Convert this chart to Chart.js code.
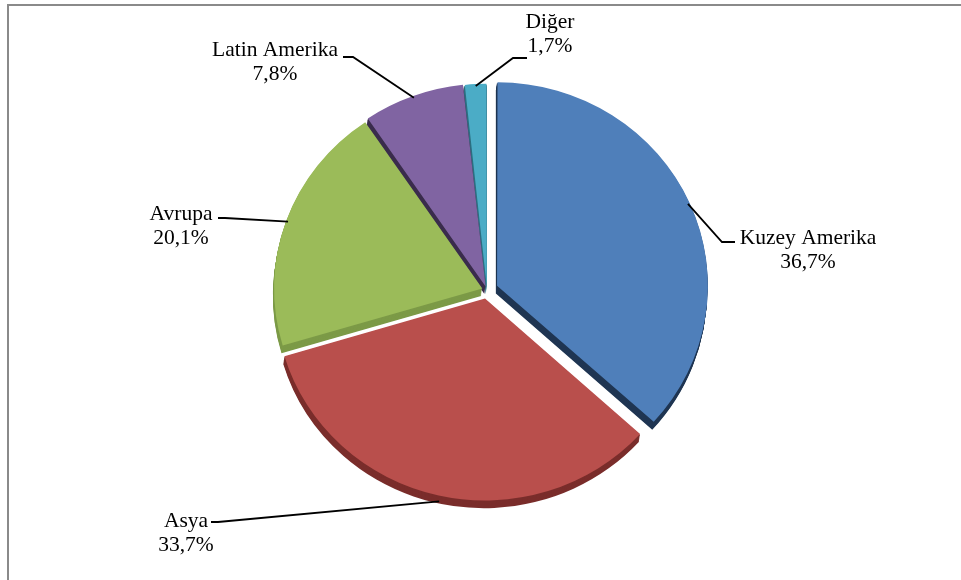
<!doctype html>
<html lang="tr">

<head>
  <meta charset="utf-8">
  <title>Bölgelere göre dağılım</title>
  <style>
    body { margin: 0; background: #fff; }
    #wrap { position: relative; width: 961px; height: 580px; overflow: hidden; }
    #chart { position: absolute; left: 0; top: 0; }
    #frame {
      position: absolute; left: 7px; top: 4px; width: 960px; height: 580px;
      border-top: 2px solid #8a8a8a; border-left: 2px solid #8a8a8a;
      pointer-events: none;
    }
  </style>
</head>

<body>
  <div id="wrap">
    <canvas id="chart" width="961" height="580"></canvas>
    <div id="frame"></div>
  </div>

  <script src="https://cdn.jsdelivr.net/npm/chart.js@4/dist/chart.umd.min.js"></script>
  <script>

  // shares by region, %
  const regions = ['Kuzey Amerika', 'Asya', 'Avrupa', 'Latin Amerika', 'Diğer'];
  const shares = [36.7, 33.7, 20.1, 7.8, 1.7];
  const shareLabels = ['36,7%', '33,7%', '20,1%', '7,8%', '1,7%'];

  const faceColors = ['#4f7fba', '#b94f4c', '#9bbb59', '#8064a2', '#4bacc6'];
  const sideColors = ['#1f3552', '#7a2d2b', '#7c9a47', '#3a2c4c', '#2d6f80'];
  const explode = [44, 36, 20, 16, 12];

  // label text centre (first line), elbow of the leader and end of its stub
  const labelLayout = [
    { x: 808, y: 238, elbow: [722, 242], stub: [735, 242] },
    { x: 186, y: 521, elbow: [218, 522], stub: [211, 522] },
    { x: 181, y: 214, elbow: [225, 218], stub: [218, 218] },
    { x: 275, y: 50,  elbow: [353, 57],  stub: [343, 57] },
    { x: 550, y: 22,  elbow: [513, 58],  stub: [527, 58] }
  ];

  const DEPTH = 8;
  const TILT = 0.965;   // vertical squash of the pie to look tilted

  // where the arc element really sits once chart.js applies the offset
  function arcGeometry(el) {
    const half = (el.startAngle + el.endAngle) / 2;
    const t = (el.options.offset || 0) / 4;
    const fix = 1 - Math.sin(Math.min(Math.PI, el.circumference || 0));
    return {
      half: half,
      x: el.x + Math.cos(half) * t,
      y: el.y + Math.sin(half) * t,
      r: el.outerRadius + t * fix
    };
  }

  // tilt the pie, draw the side walls under the faces, then the labels
  const pie3d = {
    id: 'pie3d',
    beforeDatasetsDraw(chart) {
      const ctx = chart.ctx;
      const arcs = chart.getDatasetMeta(0).data;
      const cy = arcs[0].y;
      ctx.save();
      ctx.translate(0, cy);
      ctx.scale(1, TILT);
      ctx.translate(0, -cy);
      for (let d = DEPTH; d >= 1; d--) {
        arcs.forEach((el, i) => {
          const g = arcGeometry(el);
          ctx.beginPath();
          ctx.moveTo(g.x - d * 0.15, g.y + d);
          ctx.arc(g.x - d * 0.15, g.y + d, g.r, el.startAngle, el.endAngle);
          ctx.closePath();
          ctx.fillStyle = sideColors[i];
          ctx.fill();
        });
      }
    },
    afterDatasetsDraw(chart) {
      const ctx = chart.ctx;
      ctx.restore();
      const arcs = chart.getDatasetMeta(0).data;
      ctx.save();
      ctx.strokeStyle = '#000';
      ctx.lineWidth = 1.8;
      ctx.fillStyle = '#000';
      ctx.font = '21.5px "Liberation Serif", "Times New Roman", serif';
      ctx.textAlign = 'center';
      ctx.textBaseline = 'middle';
      arcs.forEach((el, i) => {
        const g = arcGeometry(el);
        const lay = labelLayout[i];
        const ax = g.x + Math.cos(g.half) * (g.r - 2);
        let ay = g.y + Math.sin(g.half) * (g.r - 2);
        if (Math.sin(g.half) > 0.5) ay += DEPTH;
        ay = el.y + (ay - el.y) * TILT;
        ctx.beginPath();
        ctx.moveTo(ax, ay);
        ctx.lineTo(lay.elbow[0], lay.elbow[1]);
        ctx.lineTo(lay.stub[0], lay.stub[1]);
        ctx.stroke();
        ctx.fillText(regions[i], lay.x, lay.y);
        ctx.fillText(shareLabels[i], lay.x, lay.y + 24);
      });
      ctx.restore();
    }
  };

  const canvas = document.getElementById('chart');

  new Chart(canvas, {
    type: 'pie',
    data: {
      labels: regions,
      datasets: [{
        data: shares,
        backgroundColor: faceColors,
        borderWidth: 0,
        offset: explode,
        radius: 208
      }]
    },
    options: {
      responsive: false,
      animation: false,
      events: [],
      layout: { padding: { left: 13, right: 0, top: 0, bottom: 0 } },
      plugins: {
        legend: { display: false },
        tooltip: { enabled: false }
      }
    },
    plugins: [pie3d]
  });
  </script>

</body>
</html>
